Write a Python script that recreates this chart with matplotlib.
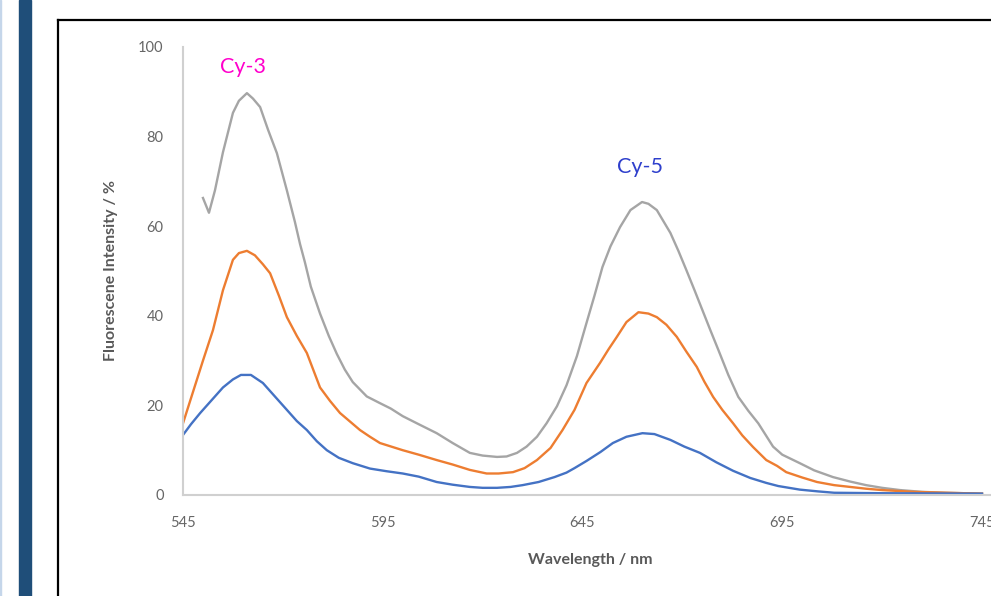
import matplotlib.pyplot as plt
from matplotlib.lines import Line2D
from matplotlib.patches import Rectangle

plt.rcParams['font.family'] = ['Lato', 'DejaVu Sans']

# gray curve (highest)
wl_gray = [550, 551.5, 553, 555, 557.5, 559, 561, 562.5, 564.3, 566.3, 568.5, 571, 573, 574.3,
           575.5, 577, 579.3, 581.5, 583.5, 585.5, 587.5, 591, 594.3, 597, 600, 604, 608.5,
           612.5, 616.8, 620, 623.6, 626, 628.6, 631, 633.6, 636, 638.6, 641, 643.6, 646, 648,
           650, 652, 654.4, 657, 659.9, 661.5, 663.6, 667, 669, 671, 673, 675, 677, 679, 681.5,
           684, 686.5, 689, 692.7, 695, 699.4, 703, 707.7, 712, 716, 720, 724.5, 730, 736, 745]
val_gray = [66.3, 63, 68, 76.5, 85.3, 88, 89.7, 88.5, 86.6, 81.5, 76.3, 68, 61, 56,
            52, 46.5, 40.5, 35.5, 31.5, 28, 25.2, 22, 20.5, 19.3, 17.6, 15.8, 13.8,
            11.6, 9.4, 8.8, 8.5, 8.6, 9.4, 10.8, 13, 16, 19.8, 24.5, 31, 38.4, 44.5,
            50.9, 55.5, 59.8, 63.6, 65.4, 65, 63.6, 58.5, 54.5, 50.2, 45.8, 41.3, 36.8, 32.4, 26.8,
            21.9, 18.8, 16, 10.8, 9, 7.1, 5.5, 4, 3, 2.2, 1.6, 1.1, 0.7, 0.5, 0.3]

# orange curve
wl_orange = [545, 547.5, 550, 552.5, 555, 557.5, 559, 561, 563, 565, 566.8, 569, 571, 573.5,
             576, 579.3, 581.8, 584.3, 589.3, 591.8, 594.3, 600, 604, 608.5, 612.5, 616.8,
             621, 624, 627.6, 630.5, 633.6, 637, 640, 643, 646, 649.4, 651.5, 653.6, 656, 659,
             661.5, 663.6, 666, 668.6, 671, 673.6, 675.5, 677.7, 680, 682.7, 685, 687.7, 691,
             693.7, 696, 700, 703.7, 708, 712, 716, 720, 728, 736, 745]
val_orange = [16, 23, 30, 36.8, 45.7, 52.5, 54, 54.5, 53.5, 51.5, 49.5, 44.5, 39.7, 35.5,
              31.7, 24, 21, 18.3, 14.5, 13, 11.6, 10, 9, 7.8, 6.8, 5.6,
              4.8, 4.8, 5.1, 6, 7.8, 10.5, 14.5, 19, 25, 29.5, 32.5, 35.3, 38.6, 40.8,
              40.5, 39.7, 38, 35.3, 32, 28.6, 25.3, 21.9, 19, 16, 13.3, 10.7, 7.8,
              6.5, 5.1, 3.9, 2.9, 2.2, 1.8, 1.4, 1.1, 0.7, 0.5, 0.3]

# blue curve (lowest)
wl_blue = [545, 547, 549.3, 552, 555, 557.5, 559.5, 562, 565, 568, 571, 573.5, 576, 578.5,
           581, 584, 587.5, 591.8, 596, 600, 604, 608.5, 612.5, 616.8, 620, 623.6, 627, 630,
           634, 638, 641, 643, 646, 649.5, 652.6, 656, 660, 663, 667, 670.5, 674.4, 678.5,
           682.7, 687, 691, 694, 699.4, 704, 708, 720, 745]
val_blue = [13.4, 15.8, 18.3, 21, 24, 25.8, 26.8, 26.8, 25, 22, 19, 16.5, 14.5, 12,
            10, 8.3, 7.1, 5.9, 5.3, 4.8, 4.1, 2.9, 2.3, 1.8, 1.6, 1.6, 1.8, 2.2,
            2.9, 4, 5, 6, 7.6, 9.6, 11.6, 13, 13.8, 13.6, 12.3, 10.8, 9.4, 7.3,
            5.4, 3.8, 2.7, 2, 1.2, 0.8, 0.5, 0.4, 0.3]

x_ticks = [545, 595, 645, 695, 745]
y_ticks = [0, 20, 40, 60, 80, 100]

fig = plt.figure(figsize=(9.91, 5.96), dpi=100)
W, H = 991, 596

# page decoration: left bars and black frame
fig.patches.append(Rectangle((0, 0), 1.2 / W, 1, transform=fig.transFigure,
                             color='#c5d6ea', zorder=0))
fig.patches.append(Rectangle((19 / W, 0), 12 / W, 1, transform=fig.transFigure,
                             color='#1f4e79', zorder=0))
fig.lines.append(Line2D([58 / W, 58 / W], [0, 1 - 20 / H], transform=fig.transFigure,
                        color='black', lw=1.6))
fig.lines.append(Line2D([58 / W, 1], [1 - 20 / H, 1 - 20 / H], transform=fig.transFigure,
                        color='black', lw=1.6))

ax = fig.add_axes([183 / W, 1 - 495 / H, (W - 183) / W, 448 / H])
ax.plot(wl_gray, val_gray, color='#a5a5a5', lw=1.7)
ax.plot(wl_orange, val_orange, color='#ed7d31', lw=1.7)
ax.plot(wl_blue, val_blue, color='#4472c4', lw=1.7)

ax.set_xlim(545, 545 + 808 / 3.995)
ax.set_ylim(0, 100)
ax.set_xticks(x_ticks)
ax.set_yticks(y_ticks)
ax.tick_params(length=0, labelsize=10.5, colors='#666666')
ax.tick_params(axis='y', pad=14)
ax.tick_params(axis='x', pad=15)
for s in ['top', 'right']:
    ax.spines[s].set_visible(False)
for s in ['left', 'bottom']:
    ax.spines[s].set_color('#d0d0d0')
    ax.spines[s].set_linewidth(1.5)

ax.set_xlabel('Wavelength / nm', fontsize=11.5, fontweight='bold', color='#595959')
ax.set_ylabel('Fluorescene Intensity / %', fontsize=11.5, fontweight='bold', color='#595959')
ax.xaxis.set_label_coords(0.504, -0.130)
ax.yaxis.set_label_coords(-0.080, 0.502)

ax.text(560, 95.5, 'Cy-3', color='#ff00cc', fontsize=15.5, ha='center', va='center')
ax.text(659.4, 73.2, 'Cy-5', color='#2e3fcc', fontsize=15.5, ha='center', va='center')

fig.savefig('out.png', dpi=100, facecolor='white')
